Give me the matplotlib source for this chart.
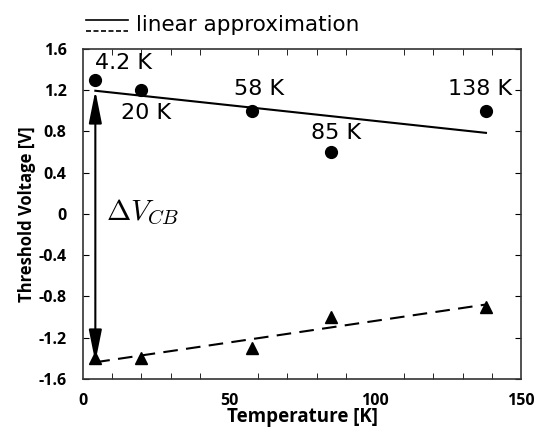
import numpy as np
from matplotlib import pyplot as plt

plt.rcParams['mathtext.fontset'] = 'cm'

# measured threshold voltages
temps = [4.2, 20, 58, 85, 138]
vth_high = [1.3, 1.2, 1.0, 0.6, 1.0]
vth_low = [-1.4, -1.4, -1.3, -1.0, -0.9]
temp_labels = ['4.2 K', '20 K', '58 K', '85 K', '138 K']
label_pos = [(13.7, 1.46), (21.6, 0.98), (60.3, 1.21), (86.6, 0.785), (136, 1.21)]

tick_font = 'Open Sans'

fig = plt.figure(figsize=(5.36, 4.28), dpi=100)
ax = fig.add_axes([0.155, 0.1145, 0.817, 0.7715])

t = np.array(temps)
fit_hi = np.polyfit(t, vth_high, 1)
fit_lo = np.polyfit(t, vth_low, 1)
ax.plot(t[[0, -1]], np.polyval(fit_hi, t[[0, -1]]), color='black', lw=1.5)
ax.plot(t[[0, -1]], np.polyval(fit_lo, t[[0, -1]]), color='black', lw=1.5,
        dashes=(7, 4))
ax.plot(temps, vth_high, 'o', color='black', ms=8.5)
ax.plot(temps, vth_low, '^', color='black', ms=9)

for lab, (x, y) in zip(temp_labels, label_pos):
    ax.text(x, y, lab, fontsize=16, ha='center', va='center', family='DejaVu Sans')

# delta V arrow
y_top = np.polyval(fit_hi, temps[0])
y_bot = np.polyval(fit_lo, temps[0])
ax.annotate('', xy=(temps[0], y_bot), xytext=(temps[0], y_top),
            arrowprops=dict(arrowstyle='<|-|>,head_length=1.1,head_width=0.22',
                            color='black', lw=1.5,
                            mutation_scale=18, shrinkA=0, shrinkB=0))
ax.text(8.0, 0.01, r'$\Delta V_{CB}$', fontsize=21, ha='left', va='center')

ax.set_xlim(0, 150)
ax.set_ylim(-1.6, 1.6)
ax.set_xticks([0, 50, 100, 150])
ax.set_xticks(np.arange(0, 151, 10), minor=True)
ax.set_yticks(np.arange(-1.6, 1.61, 0.4))
ax.set_yticklabels(['-1.6', '-1.2', '-0.8', '-0.4', '0', '0.4', '0.8', '1.2', '1.6'])
ax.tick_params(direction='in', top=True, right=True, which='both', length=4,
               pad=12, labelsize=11.5)
ax.tick_params(axis='x', which='major', length=0, pad=10)
for lab in ax.get_xticklabels() + ax.get_yticklabels():
    lab.set_fontweight('bold')
    lab.set_family(tick_font)
for sp in ax.spines.values():
    sp.set_linewidth(1.2)
    sp.set_color('#333333')

ax.set_xlabel('Temperature [K]', fontsize=13.5, fontweight='bold', family=tick_font,
              labelpad=-1)
ax.set_ylabel('Threshold Voltage [V]', fontsize=12, fontweight='bold',
              family=tick_font, labelpad=2)

# legend drawn above the axes
fig.add_artist(plt.Line2D([86 / 536, 128 / 536], [1 - 20 / 428, 1 - 20 / 428],
                          color='black', lw=1.2))
fig.add_artist(plt.Line2D([86 / 536, 128 / 536], [1 - 31 / 428, 1 - 31 / 428],
                          color='black', lw=1.2, dashes=(3, 1.5)))
fig.text(136 / 536, 1 - 25 / 428, 'linear approximation', fontsize=15.5,
         va='center', family='DejaVu Sans')

fig.savefig('out.png', dpi=100)
